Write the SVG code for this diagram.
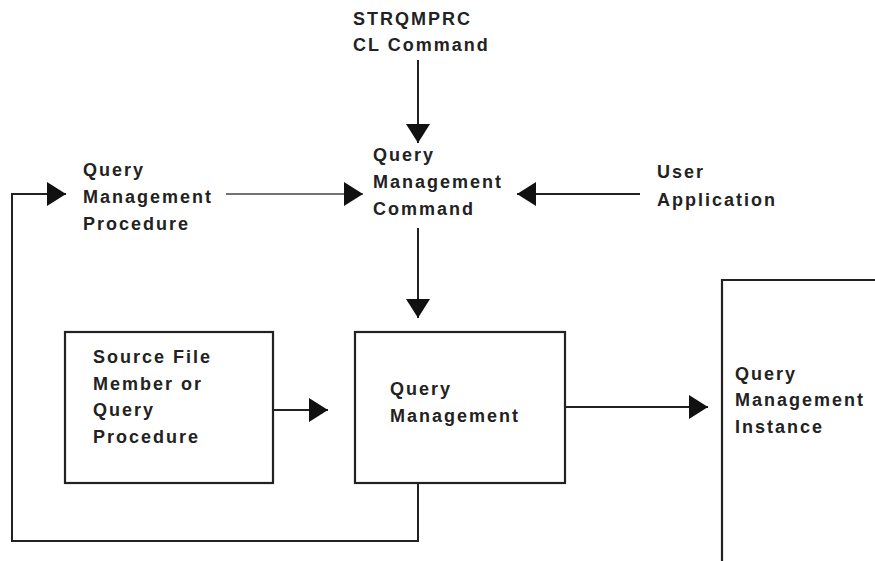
<svg xmlns="http://www.w3.org/2000/svg" width="875" height="561" viewBox="0 0 875 561">
<defs>
<style>
.t{font-family:"Liberation Sans",Arial,Helvetica,sans-serif;font-size:18px;font-weight:bold;fill:#222;letter-spacing:2px}
.box{fill:none;stroke:#222;stroke-width:2.2}
.c{fill:none;stroke:#222;stroke-width:2}
.thin{fill:none;stroke:#444;stroke-width:1.4}
</style>
<marker id="ah" markerUnits="userSpaceOnUse" markerWidth="20" markerHeight="24" refX="19" refY="12" orient="auto">
<path d="M0,0 L19,12 L0,24 z" fill="#111"/>
</marker>
</defs>
<rect width="875" height="561" fill="#fff"/>

<g id="strqmprc">
<text class="t" x="353" y="25">STRQMPRC</text>
<text class="t" x="353" y="51">CL Command</text>
</g>
<g id="qm-command">
<text class="t" x="373" y="161">Query</text>
<text class="t" x="373" y="188">Management</text>
<text class="t" x="373" y="215">Command</text>
</g>
<g id="qm-procedure">
<text class="t" x="83" y="176">Query</text>
<text class="t" x="83" y="203">Management</text>
<text class="t" x="83" y="230">Procedure</text>
</g>
<g id="user-app">
<text class="t" x="657" y="178">User</text>
<text class="t" x="657" y="206">Application</text>
</g>
<g id="source-file">
<rect class="box" x="65" y="332" width="208" height="151"/>
<text class="t" x="93" y="363">Source File</text>
<text class="t" x="93" y="390">Member or</text>
<text class="t" x="93" y="416">Query</text>
<text class="t" x="93" y="443">Procedure</text>
</g>
<g id="query-management">
<rect class="box" x="355" y="332" width="210" height="151"/>
<text class="t" x="390" y="395">Query</text>
<text class="t" x="390" y="422">Management</text>
</g>
<g id="qm-instance">
<path class="box" d="M722,561 L722,280 L876,280"/>
<text class="t" x="735" y="380">Query</text>
<text class="t" x="735" y="406">Management</text>
<text class="t" x="735" y="433">Instance</text>
</g>

<g id="connectors">
<path class="c" d="M418,60 L418,143" marker-end="url(#ah)"/>
<path class="thin" d="M226,194 L363,194" marker-end="url(#ah)"/>
<path class="c" d="M640,194 L517,194" marker-end="url(#ah)"/>
<path class="c" d="M418,228 L418,318" marker-end="url(#ah)"/>
<path class="c" d="M273,410 L328,410" marker-end="url(#ah)"/>
<path class="c" d="M565,407 L708,407" marker-end="url(#ah)"/>
<path class="c" d="M418,483 L418,541 L12,541 L12,194 L66,194" marker-end="url(#ah)"/>
</g>
</svg>
